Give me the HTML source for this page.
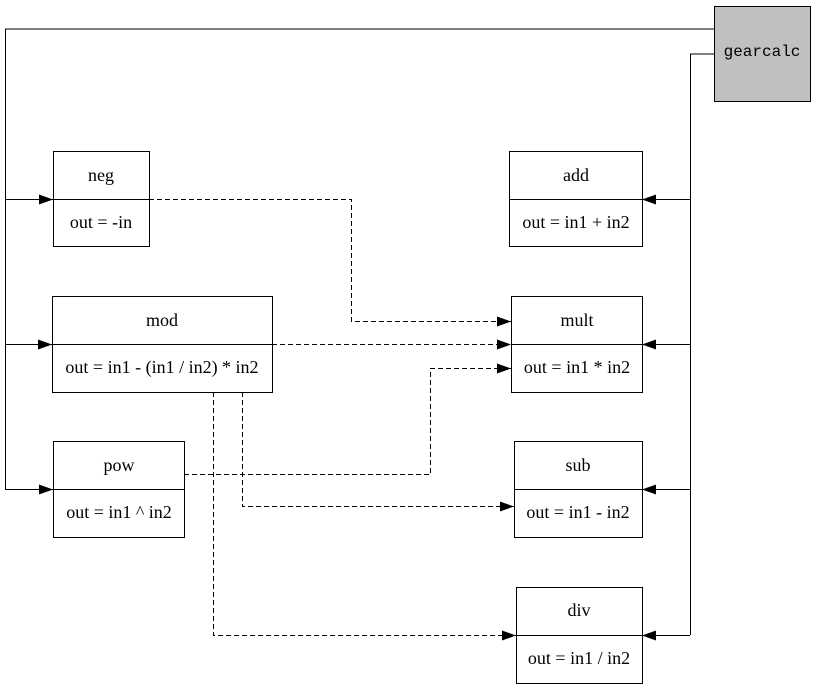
<!DOCTYPE html>
<html><head><style>body{margin:0;background:#fff}svg{display:block}</style></head><body>
<svg width="816" height="689" viewBox="0 0 816 689" xmlns="http://www.w3.org/2000/svg">
<defs><marker id="a" markerWidth="14" markerHeight="10" refX="14" refY="5" orient="auto" markerUnits="userSpaceOnUse"><path d="M0,0L14,5L0,10z" fill="#000"/></marker></defs>
<g fill="none" stroke="#000" stroke-width="1">
<rect x="714.5" y="6.5" width="96" height="95" fill="#c0c0c0"/>
<polyline points="714,29 5.5,29 5.5,490"/>
<polyline points="714,54 690.5,54 690.5,635"/>
<line x1="5" y1="199.5" x2="53" y2="199.5" marker-end="url(#a)"/>
<line x1="5" y1="344.5" x2="52" y2="344.5" marker-end="url(#a)"/>
<line x1="5" y1="489.5" x2="53" y2="489.5" marker-end="url(#a)"/>
<line x1="690" y1="199.5" x2="642" y2="199.5" marker-end="url(#a)"/>
<line x1="690" y1="344.5" x2="642" y2="344.5" marker-end="url(#a)"/>
<line x1="690" y1="489.5" x2="642" y2="489.5" marker-end="url(#a)"/>
<line x1="690" y1="635.5" x2="642" y2="635.5" marker-end="url(#a)"/>
<g stroke-dasharray="5,3">
<polyline points="149,199.5 351.5,199.5 351.5,321.5 511,321.5" marker-end="url(#a)"/>
<line x1="272" y1="344.5" x2="511" y2="344.5" marker-end="url(#a)"/>
<polyline points="184,474.5 430.5,474.5 430.5,368.5 511,368.5" marker-end="url(#a)"/>
<polyline points="242.5,392 242.5,506.5 514,506.5" marker-end="url(#a)"/>
<polyline points="213.5,392 213.5,635.5 516,635.5" marker-end="url(#a)"/>
</g>
<rect x="53.5" y="151.5" width="96" height="95"/><line x1="53" y1="199.5" x2="149" y2="199.5"/>
<rect x="509.5" y="151.5" width="133" height="95"/><line x1="509" y1="199.5" x2="642" y2="199.5"/>
<rect x="52.5" y="296.5" width="220" height="96"/><line x1="52" y1="344.5" x2="272" y2="344.5"/>
<rect x="511.5" y="296.5" width="131" height="96"/><line x1="511" y1="344.5" x2="642" y2="344.5"/>
<rect x="53.5" y="441.5" width="131" height="96"/><line x1="53" y1="489.5" x2="184" y2="489.5"/>
<rect x="514.5" y="441.5" width="128" height="96"/><line x1="514" y1="489.5" x2="642" y2="489.5"/>
<rect x="516.5" y="587.5" width="126" height="96"/><line x1="516" y1="635.5" x2="642" y2="635.5"/>
</g>
<g font-family="Liberation Serif, serif" font-size="18" text-anchor="middle" fill="#000">
<text x="101" y="181">neg</text><text x="101" y="228">out = -in</text>
<text x="576" y="181">add</text><text x="576" y="228">out = in1 + in2</text>
<text x="162" y="326">mod</text><text x="162" y="373">out = in1 - (in1 / in2) * in2</text>
<text x="577" y="326">mult</text><text x="577" y="373">out = in1 * in2</text>
<text x="119" y="471">pow</text><text x="119" y="518">out = in1 ^ in2</text>
<text x="578" y="471">sub</text><text x="578" y="518">out = in1 - in2</text>
<text x="579" y="616">div</text><text x="579" y="664">out = in1 / in2</text>
</g>
<text x="762" y="56" font-family="Liberation Mono, monospace" font-size="16" text-anchor="middle">gearcalc</text>
</svg>
</body></html>
